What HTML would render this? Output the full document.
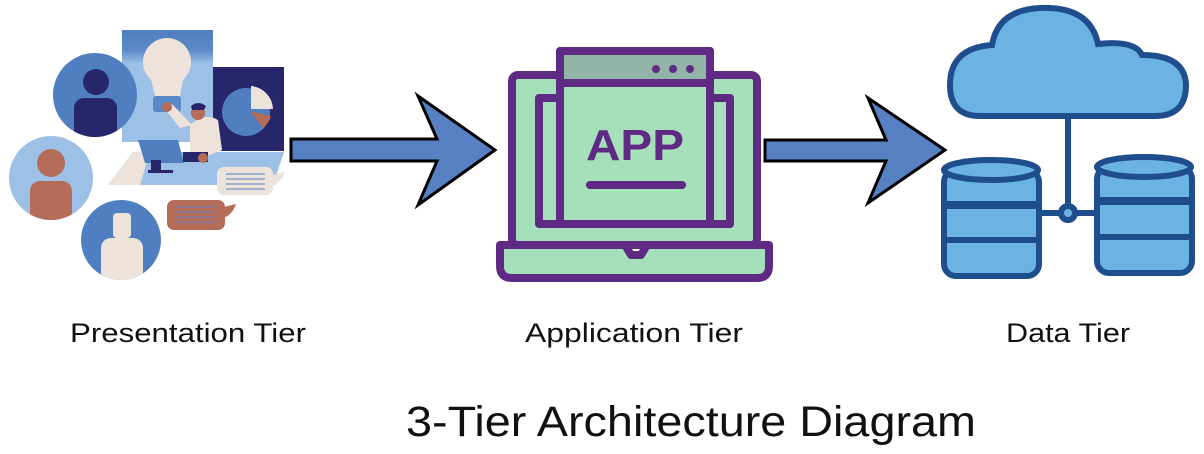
<!DOCTYPE html>
<html><head><meta charset="utf-8"><style>
html,body{margin:0;padding:0;background:#fff;width:1204px;height:454px;overflow:hidden}
svg{display:block}
text{font-family:"Liberation Sans",sans-serif;fill:#111}
</style></head><body>
<svg width="1204" height="454" viewBox="0 0 1204 454" xmlns="http://www.w3.org/2000/svg">
<defs>
<linearGradient id="lg" x1="0" y1="0" x2="0" y2="1">
<stop offset="0" stop-color="#4f7fc1"/><stop offset="0.18" stop-color="#5b89c8"/><stop offset="0.3" stop-color="#9cc0e6"/><stop offset="1" stop-color="#9cc0e6"/>
</linearGradient>
<clipPath id="c1"><circle cx="95" cy="95" r="42"/></clipPath>
<clipPath id="c2"><circle cx="51" cy="178" r="42"/></clipPath>
<clipPath id="c3"><circle cx="121" cy="240" r="40"/></clipPath>
</defs>

<!-- Presentation illustration -->
<rect x="122" y="30" width="91" height="112" fill="url(#lg)"/>
<rect x="213" y="67" width="71" height="84" fill="#27266a"/>
<circle cx="246" cy="112" r="24" fill="#4f7fc1"/>
<path d="M251 86 A24 24 0 0 1 273 109 L251 109 Z" fill="#ede3da"/>
<path d="M250 111 L271 116 A24 24 0 0 1 263 128 Z" fill="#b56c59"/>
<circle cx="167" cy="62" r="24" fill="#ede3da"/>
<path d="M150 75 L184 75 L180 96 L155 96 Z" fill="#ede3da"/>
<rect x="153" y="96" width="28" height="16" rx="3" fill="#5b89c8"/>
<path d="M108 185 L133 152 L284 152 L273 185 Z" fill="#9cc0e6"/>
<path d="M108 185 L133 152 L150 152 L140 185 Z" fill="#ede3da"/>
<path d="M138 140 L178 140 L184 163 L145 163 Z" fill="#4f7fc1"/>
<rect x="151" y="160" width="10" height="12" fill="#27266a"/>
<rect x="148" y="170" width="25" height="3" fill="#27266a"/>
<path d="M190 125 Q205 112 218 120 L222 150 L210 155 L190 155 Z" fill="#ede3da"/>
<path d="M164 108 L180 128 L192 125 L172 104 Z" fill="#ede3da"/>
<circle cx="167" cy="107" r="5" fill="#b56c59"/>
<circle cx="198" cy="113" r="7" fill="#b56c59"/>
<path d="M191 106 Q198 100 206 106 L204 110 L192 110 Z" fill="#27266a"/>
<rect x="183" y="152" width="25" height="10" fill="#27266a"/>
<circle cx="203" cy="158" r="5" fill="#b56c59"/>
<rect x="217" y="167" width="56" height="28" rx="7" fill="#ede3da"/>
<path d="M272 175 L285 172 Q280 185 270 187 Z" fill="#ede3da"/>
<g stroke="#4f7fc1" stroke-width="1"><line x1="226" y1="174" x2="265" y2="174"/><line x1="226" y1="179" x2="265" y2="179"/><line x1="226" y1="184" x2="265" y2="184"/><line x1="226" y1="189" x2="265" y2="189"/></g>
<rect x="167" y="200" width="58" height="30" rx="7" fill="#b56c59"/>
<path d="M224 207 L236 204 Q232 216 222 218 Z" fill="#b56c59"/>
<g stroke="#6b7fbf" stroke-width="1"><line x1="176" y1="207" x2="216" y2="207"/><line x1="176" y1="212" x2="216" y2="212"/><line x1="176" y1="217" x2="216" y2="217"/><line x1="176" y1="222" x2="216" y2="222"/></g>

<circle cx="95" cy="95" r="42" fill="#4f7fc1"/>
<g clip-path="url(#c1)" fill="#27266a"><circle cx="96" cy="82" r="13"/><rect x="74" y="98" width="43" height="50" rx="10"/></g>
<circle cx="51" cy="178" r="42" fill="#9cc0e6"/>
<g clip-path="url(#c2)" fill="#b56c59"><circle cx="51" cy="163" r="14"/><rect x="30" y="181" width="42" height="50" rx="10"/></g>
<circle cx="121" cy="240" r="40" fill="#4f7fc1"/>
<g clip-path="url(#c3)" fill="#ede3da"><rect x="113" y="213" width="18" height="25" rx="4"/><rect x="101" y="238" width="42" height="50" rx="10"/></g>

<!-- Arrows -->
<path d="M291 139 L437 139 L418 96 L495 150 L418 205 L437 161 L291 161 Z" fill="#5680c2" stroke="#000" stroke-width="3" stroke-linejoin="miter"/>
<path d="M765 140 L886 140 L868 98 L945 150 L868 203 L886 161 L765 161 Z" fill="#5680c2" stroke="#000" stroke-width="3"/>

<!-- Laptop -->
<g stroke="#5e2a84" stroke-width="8" stroke-linejoin="round" fill="#a6e0bb">
<rect x="512" y="75" width="245" height="170" rx="6"/>
<path d="M500 245 L625 245 L631 255 L641 255 L647 245 L769 245 L769 266 Q769 278 757 278 L512 278 Q500 278 500 266 Z"/>
<rect x="539" y="98" width="191" height="126"/>
<rect x="560" y="51" width="150" height="173"/>
<rect x="560" y="51" width="150" height="32" fill="#93b5a8"/>
</g>
<g fill="#5e2a84"><circle cx="656" cy="69" r="4"/><circle cx="673" cy="69" r="4"/><circle cx="690" cy="69" r="4"/></g>
<text x="635" y="160" text-anchor="middle" font-size="44" font-weight="bold" style="fill:#5e2a84" textLength="98" lengthAdjust="spacingAndGlyphs">APP</text>
<line x1="590" y1="185" x2="682" y2="185" stroke="#5e2a84" stroke-width="8" stroke-linecap="round"/>

<!-- Data tier -->
<g stroke="#1f4e8f" stroke-width="6" fill="#6ab3e3">
<path d="M980 116 Q950 116 950 85 Q950 48 992 45 Q998 10 1040 8 Q1090 6 1098 44 Q1135 40 1142 55 Q1185 55 1186 85 Q1186 116 1155 116 Z"/>
<line x1="1068" y1="116" x2="1068" y2="205"/>
<line x1="1040" y1="213" x2="1097" y2="213"/>
<circle cx="1068" cy="213" r="7"/>
<rect x="944" y="170" width="95" height="106" rx="12"/>
<ellipse cx="991" cy="170" rx="47" ry="10"/>
<line x1="944" y1="205" x2="1039" y2="205" stroke-width="8"/>
<line x1="944" y1="240" x2="1039" y2="240" stroke-width="6"/>
<rect x="1097" y="167" width="95" height="106" rx="12"/>
<ellipse cx="1144" cy="167" rx="47" ry="10"/>
<line x1="1097" y1="201" x2="1192" y2="201" stroke-width="8"/>
<line x1="1097" y1="237" x2="1192" y2="237" stroke-width="6"/>
</g>

<!-- Labels -->
<text x="188" y="342" text-anchor="middle" font-size="27" textLength="236" lengthAdjust="spacingAndGlyphs">Presentation Tier</text>
<text x="634" y="342" text-anchor="middle" font-size="27" textLength="218" lengthAdjust="spacingAndGlyphs">Application Tier</text>
<text x="1068" y="342" text-anchor="middle" font-size="27" textLength="124" lengthAdjust="spacingAndGlyphs">Data Tier</text>
<text x="691" y="436" text-anchor="middle" font-size="43" textLength="570" lengthAdjust="spacingAndGlyphs">3-Tier Architecture Diagram</text>
</svg>
</body></html>
